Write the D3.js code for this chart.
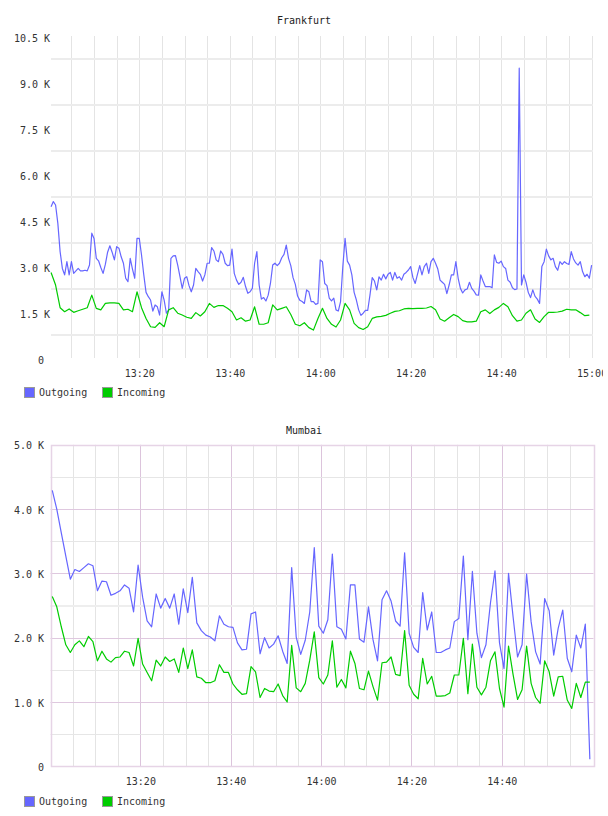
<!DOCTYPE html>
<html>
<head>
<meta charset="utf-8">
<script src="https://cdn.jsdelivr.net/npm/d3@7"></script>
<style>
  body { margin: 0; background: #fff; }
  svg text { font-family: "DejaVu Sans Mono", monospace; font-size: 10px; fill: #333; }
</style>
</head>
<body>
<svg id="chart" width="608" height="816"></svg>
<script>
// ---- data ----
const seriesNames = ["Outgoing", "Incoming"];
const seriesColors = ["#6666ff", "#00cc00"];

// Frankfurt: outgoing every 30 s, incoming every minute
const frankfurtOutStart = "13:00:30", frankfurtOutStep = 30;
const frankfurtOut = [
  4930, 5100, 4990, 4390, 3470, 2920, 2710, 3140, 2710, 3140,
  2760, 2840, 2920, 2840, 2840, 2860, 2840, 3030, 4070, 3900,
  3250, 3170, 2950, 2760, 3050, 3450, 3660, 3450, 3200, 3630,
  3580, 3300, 3090, 2600, 2490, 3250, 2900, 2600, 3900, 3900,
  3360, 2710, 2140, 2000, 1890, 1530, 1730, 1670, 1400, 2160,
  1890, 1460, 1570, 3250, 3330, 3340, 3030, 2650, 2270, 2600,
  2650, 2360, 2160, 2380, 2920, 2820, 2730, 2510, 2710, 3090,
  3090, 3600, 3490, 3200, 3140, 3490, 3380, 3090, 3010, 3030,
  3550, 2760, 2540, 2400, 2470, 2630, 2330, 2110, 2160, 2270,
  3090, 3470, 2380, 1920, 1970, 1860, 2050, 2430, 3030, 3090,
  3010, 3090, 3270, 3380, 3680, 3250, 3010, 2620, 2400, 2020,
  1880, 1840, 1780, 2220, 2160, 1840, 1840, 1750, 1780, 3200,
  3140, 2430, 2360, 1950, 1860, 1950, 1570, 1530, 1840, 2980,
  3900, 3160, 3030, 2710, 2140, 1890, 1570, 1390, 1460, 1550,
  1550, 2050, 2620, 2510, 2220, 2650, 2540, 2730, 2580, 2730,
  2790, 2540, 2790, 2600, 2650, 2540, 2730, 2790, 2870, 2980,
  2620, 2430, 2730, 3010, 2710, 2980, 3090, 2760, 3140, 3250,
  3090, 2900, 2540, 2470, 2400, 2100, 2380, 2710, 2710, 3140,
  2600, 2270, 2120, 2220, 2250, 2470, 2270, 2180, 2060, 2050,
  2710, 2510, 2330, 2330, 2330, 2290, 3360, 3120, 3090, 3160,
  2980, 2920, 2540, 2470, 2290, 2230, 2250, 9450, 2380, 2710,
  2470, 2140, 1970, 2220, 2010, 1920, 1780, 2980, 3140, 3550,
  3330, 3200, 3250, 2980, 2860, 3140, 3050, 3140, 3080, 3050,
  3470, 3230, 3100, 3030, 3140, 2820, 2650, 2730, 2600, 3030
];
const frankfurtInStart = "13:00:30", frankfurtInStep = 60;
const frankfurtIn = [
  2790, 2380, 1640, 1510, 1600, 1490, 1540, 1590, 1640, 2050,
  1620, 1570, 1780, 1800, 1800, 1780, 1570, 1590, 1510, 2160,
  1640, 1290, 1020, 1000, 1150, 1020, 1570, 1640, 1460, 1400,
  1330, 1290, 1480, 1370, 1510, 1780, 1650, 1710, 1710, 1620,
  1510, 1240, 1310, 1200, 1240, 1670, 1100, 1100, 1150, 1730,
  1570, 1620, 1670, 1420, 1100, 1050, 1150, 990, 910, 1290,
  1620, 1290, 1100, 1010, 1240, 1780, 1570, 1130, 990, 930,
  1020, 1290, 1340, 1360, 1390, 1460, 1520, 1540, 1600, 1620,
  1610, 1620, 1620, 1630, 1680, 1570, 1270, 1200, 1310, 1420,
  1350, 1220, 1180, 1180, 1200, 1510, 1570, 1450, 1570, 1650,
  1780, 1670, 1380, 1200, 1240, 1460, 1570, 1270, 1160, 1350,
  1490, 1490, 1500, 1530, 1590, 1570, 1570, 1480, 1380, 1400
];

// Mumbai: both series every minute
const mumbaiStart = "13:00:30", mumbaiStep = 60;
const mumbaiOut = [
  4290, 4000, 3630, 3270, 2910, 3060, 3030, 3090, 3150, 3120,
  2730, 2880, 2870, 2660, 2690, 2730, 2820, 2770, 2400, 3130,
  2630, 2260, 2170, 2680, 2460, 2610, 2460, 2680, 2210, 2760,
  2390, 2940, 2230, 2110, 2040, 2010, 1950, 2340, 2210, 2170,
  2160, 1920, 1810, 1820, 2370, 2400, 1750, 2000, 1840, 1900,
  2030, 1790, 1600, 3090, 2010, 1740, 1960, 2400, 3400, 2180,
  2070, 2280, 3300, 2170, 2130, 1980, 2820, 2820, 1980, 1930,
  2480, 1970, 1640, 2590, 2730, 2570, 2260, 2180, 3320, 2070,
  1850, 1770, 2700, 2120, 2400, 1770, 1770, 1810, 1840, 2250,
  2300, 3270, 1970, 3030, 2070, 1690, 1890, 2540, 3040, 1920,
  1520, 3000, 2330, 1700, 1890, 2990, 2250, 1780, 1590, 2610,
  2420, 1730, 2150, 2430, 1680, 1470, 2040, 1840, 2210, 110
];
const mumbaiIn = [
  2640, 2480, 2170, 1890, 1770, 1890, 1950, 1860, 2020, 1940,
  1640, 1790, 1670, 1620, 1690, 1700, 1790, 1770, 1560, 1990,
  1590, 1460, 1330, 1650, 1560, 1700, 1630, 1670, 1460, 1840,
  1520, 1810, 1390, 1370, 1300, 1300, 1330, 1580, 1460, 1460,
  1280, 1190, 1120, 1130, 1550, 1470, 1070, 1210, 1170, 1160,
  1280, 1100, 1000, 1880, 1220, 1160, 1290, 1650, 2090, 1380,
  1280, 1420, 1950, 1230, 1350, 1220, 1790, 1600, 1210, 1190,
  1480, 1240, 1030, 1610, 1620, 1700, 1430, 1410, 2110, 1260,
  1120, 1050, 1680, 1280, 1400, 1090, 1090, 1100, 1140, 1420,
  1420, 1990, 1130, 1900, 1230, 1110, 1230, 1640, 1780, 1210,
  920, 1870, 1430, 1040, 1190, 1870, 1290, 1070, 980, 1640,
  1470, 1090, 1390, 1400, 1030, 900, 1290, 1070, 1310, 1310
];

// ticks
const frankfurtYTicks = [0, 1500, 3000, 4500, 6000, 7500, 9000, 10500];
const frankfurtYLabels = ["0", "1.5 K", "3.0 K", "4.5 K", "6.0 K", "7.5 K", "9.0 K", "10.5 K"];
const frankfurtGridY = [750, 2250, 3750, 5250, 6750, 8250, 9750];
const frankfurtXLabels = ["13:20", "13:40", "14:00", "14:20", "14:40", "15:00"];

const mumbaiYTicks = [0, 1000, 2000, 3000, 4000, 5000];
const mumbaiYLabels = ["0", "1.0 K", "2.0 K", "3.0 K", "4.0 K", "5.0 K"];
const mumbaiMinorY = [500, 1500, 3500, 4500];
const mumbaiMidY = [2500];
const mumbaiXLabels = ["13:20", "13:40", "14:00", "14:20", "14:40"];

// ---- drawing ----
const parseT = d3.timeParse("%H:%M:%S");
const parseHM = d3.timeParse("%H:%M");
const fmtHM = d3.timeFormat("%H:%M");
const svg = d3.select("#chart");

// labels past the right edge get cut like in the original image
svg.append("defs").append("clipPath").attr("id", "edge")
  .append("rect").attr("x", 0).attr("y", 0).attr("width", 603).attr("height", 816);

function toSeries(start, step, values) {
  const t0 = parseT(start);
  return values.map((v, i) => ({ t: new Date(+t0 + i * step * 1000), v: v }));
}

function drawChart(o) {
  const g = svg.append("g");
  const x = d3.scaleTime().domain([parseHM("13:00"), parseHM("15:00")]).range(o.xRange);
  const y = d3.scaleLinear().domain([0, o.yMax]).range(o.yRange);
  const left = o.plotLeft, right = o.plotRight;
  const top = y(o.yMax), bottom = y(0);

  // title
  g.append("text").attr("x", 304).attr("y", o.titleY)
    .attr("text-anchor", "middle").style("fill", "#222").text(o.title);

  // vertical grid every 5 minutes
  let minor = x.ticks(d3.timeMinute.every(5)).filter(d => x(d) > left + 1);
  if (o.frameColor) minor = minor.filter(d => x(d) < right - 2);
  g.selectAll(".vg").data(minor).enter().append("line")
    .attr("x1", d => Math.round(x(d)) + 0.5).attr("x2", d => Math.round(x(d)) + 0.5)
    .attr("y1", top).attr("y2", bottom)
    .attr("stroke", d => (o.majorColor && d.getMinutes() % 20 === 0) ? o.majorColor : "#e4e4e4")
    .attr("stroke-width", 1);

  // horizontal grid
  o.hGrid.forEach(h => {
    g.selectAll(null).data(h.values).enter().append("line")
      .attr("x1", left).attr("x2", right)
      .attr("y1", d => Math.round(y(d)) + (h.width % 2 ? 0.5 : 0))
      .attr("y2", d => Math.round(y(d)) + (h.width % 2 ? 0.5 : 0))
      .attr("stroke", h.color).attr("stroke-width", h.width);
  });

  // frame
  if (o.frameColor) {
    g.append("rect")
      .attr("x", Math.round(left) + 0.5).attr("y", Math.round(top) + 0.5)
      .attr("width", Math.round(right - left)).attr("height", Math.round(bottom - top))
      .attr("fill", "none").attr("stroke", o.frameColor).attr("stroke-width", 1.5);
  }

  // y axis labels
  const ya = g.append("g").attr("transform", `translate(${o.yLabelX},0)`)
    .call(d3.axisLeft(y).tickValues(o.yTicks)
      .tickFormat((d, i) => o.yLabels[i]).tickSize(0).tickPadding(0));
  ya.select(".domain").remove();
  ya.selectAll("text").attr("dy", o.yDy).attr("fill", null);
  ya.selectAll(".tick").filter(d => d === 0).select("text").attr("x", o.zeroX - o.yLabelX);
  ya.attr("font-family", null).attr("font-size", null);

  // x axis labels
  const xa = g.append("g").attr("clip-path", "url(#edge)")
    .append("g").attr("transform", `translate(0,${o.xLabelY})`)
    .call(d3.axisBottom(x).tickValues(o.xLabels.map(parseHM))
      .tickFormat(fmtHM).tickSize(0).tickPadding(0));
  xa.select(".domain").remove();
  xa.attr("font-family", null).attr("font-size", null);
  xa.selectAll("text").attr("fill", null);

  // lines
  const line = d3.line().x(d => x(d.t)).y(d => y(d.v));
  o.series.forEach((s, i) => {
    g.append("path").datum(s).attr("d", line)
      .attr("fill", "none").attr("stroke", seriesColors[i])
      .attr("stroke-width", 1.2).attr("stroke-linejoin", "round");
  });

  // legend
  const lg = g.append("g").attr("transform", `translate(0,${o.legendY})`);
  const legendX = [24, 102];
  seriesNames.forEach((n, i) => {
    lg.append("rect").attr("x", legendX[i] + 0.5).attr("y", 0.5)
      .attr("width", 10).attr("height", 10)
      .attr("fill", seriesColors[i]).attr("stroke", "#999");
    lg.append("text").attr("x", legendX[i] + 15).attr("y", 9).text(n);
  });
}

drawChart({
  title: "Frankfurt", titleY: 24,
  xRange: [48.8, 591.6], yRange: [358, 36], yMax: 10500,
  plotLeft: 51, plotRight: 593,
  hGrid: [{ values: frankfurtGridY, color: "#ececec", width: 2 }],
  yTicks: frankfurtYTicks, yLabels: frankfurtYLabels, yLabelX: 50, zeroX: 44, yDy: "0.5em",
  xLabels: frankfurtXLabels, xLabelY: 370,
  series: [toSeries(frankfurtOutStart, frankfurtOutStep, frankfurtOut),
           toSeries(frankfurtInStart, frankfurtInStep, frankfurtIn)],
  legendY: 387
});

drawChart({
  title: "Mumbai", titleY: 434,
  xRange: [50, 592.1], yRange: [766.3, 444.8], yMax: 5000,
  plotLeft: 50.5, plotRight: 593.5,
  majorColor: "#dcc4dc", frameColor: "#e6d4e6",
  hGrid: [{ values: mumbaiMinorY, color: "#e6e6e6", width: 1 },
          { values: mumbaiMidY, color: "#eeeeee", width: 2 },
          { values: [1000, 2000, 3000, 4000], color: "#dfc8df", width: 1 }],
  yTicks: mumbaiYTicks, yLabels: mumbaiYLabels, yLabelX: 44, zeroX: 44, yDy: "0.4em",
  xLabels: mumbaiXLabels, xLabelY: 778,
  series: [toSeries(mumbaiStart, mumbaiStep, mumbaiOut),
           toSeries(mumbaiStart, mumbaiStep, mumbaiIn)],
  legendY: 796
});
</script>
</body>
</html>
